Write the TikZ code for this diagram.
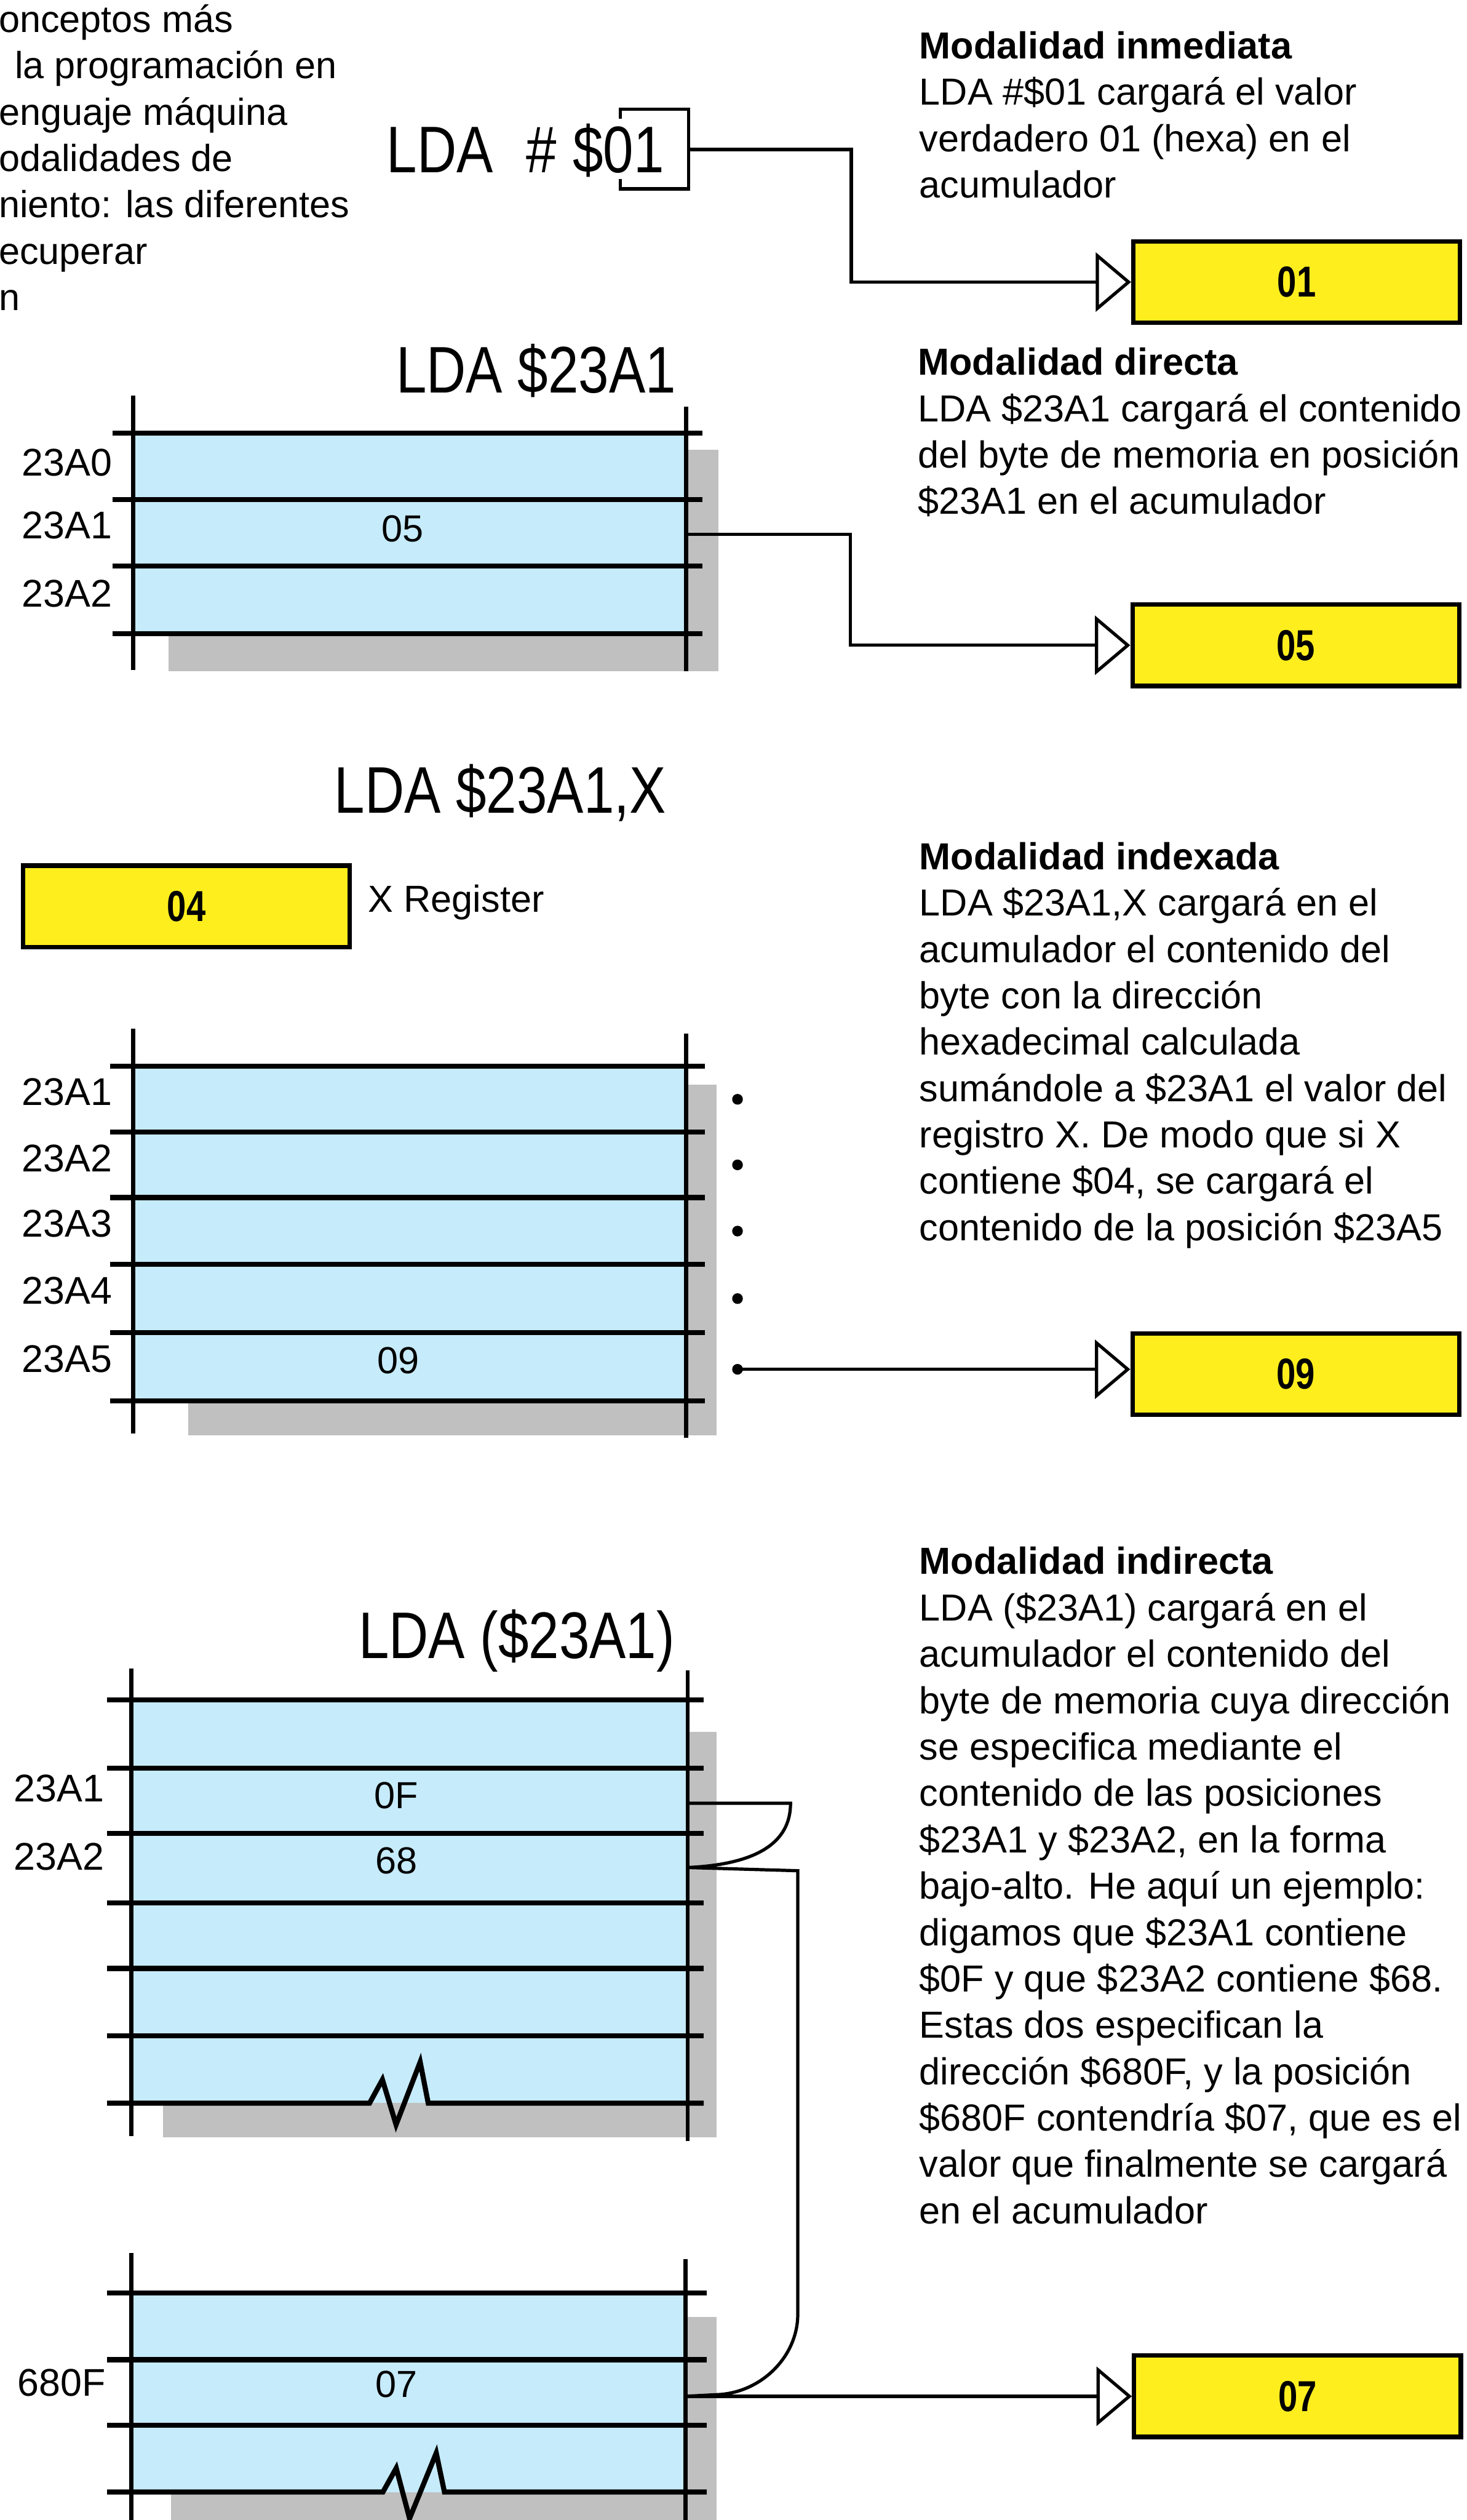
\documentclass[tikz,border=0pt]{standalone}
\usepackage{fontspec}
\setmainfont{Liberation Sans}
\newfontfamily\bigfont{Liberation Sans}[FakeStretch=0.83]
\newfontfamily\boxfont{Liberation Sans}[FakeStretch=0.8]
\usetikzlibrary{arrows.meta}
\definecolor{memblue}{RGB}{198,235,250}
\definecolor{accyellow}{RGB}{255,238,30}
\definecolor{shadowgray}{RGB}{192,192,192}
\tikzset{
  desctext/.style={inner sep=0pt, anchor=base west, font=\fontsize{20pt}{24.63pt}\selectfont},
  biglabel/.style={inner sep=0pt, anchor=base west, font=\bigfont\fontsize{35pt}{40pt}\selectfont},
  addrlab/.style={inner sep=0pt, anchor=base east, font=\fontsize{20.5pt}{24pt}\selectfont},
  cellval/.style={inner sep=0pt, anchor=base, font=\fontsize{20pt}{24pt}\selectfont},
  accbox/.style={draw, line width=2.4pt, fill=accyellow, minimum width=6.1cm, minimum height=1.52cm, inner sep=0pt, font=\boxfont\bfseries\fontsize{23pt}{26pt}\selectfont},
  rowline/.style={line width=2.7pt},
  colline/.style={line width=2.2pt},
  conn/.style={line width=1.7pt},
  arr/.style={conn, -{Triangle[open, length=0.66cm, width=1.1cm]}},
  memshadow/.style={fill=shadowgray},
  memfill/.style={fill=memblue},
  dotnode/.style={circle, fill=black, inner sep=0pt, minimum size=0.2cm},
}
\newcommand{\descbox}[1]{\parbox[t]{11.5cm}{\raggedright #1}}
\begin{document}
\begin{tikzpicture}[x=0.03cm, y=-0.03cm]
\fill[white] (0,0) rectangle (913,1568);
\useasboundingbox (0,0) rectangle (913,1568);

% ---------- texts ----------
\node[desctext] (intro) at (-1,20) {\descbox{onceptos más\\\hspace*{0.3cm}la programación en\\enguaje máquina\\odalidades de\\niento: las diferentes\\ecuperar\\n}};

\node[desctext] (inm) at (572,36.5) {\descbox{\textbf{Modalidad inmediata}\\LDA \#\$01 cargará el valor\\verdadero 01 (hexa) en el\\acumulador}};
\node[desctext] (dir) at (571,233.4) {\descbox{\textbf{Modalidad directa}\\LDA \$23A1 cargará el contenido\\del byte de memoria en posición\\\$23A1 en el acumulador}};
\node[desctext] (idx) at (572,541) {\descbox{\textbf{Modalidad indexada}\\LDA \$23A1,X cargará en el\\acumulador el contenido del\\byte con la dirección\\hexadecimal calculada\\sumándole a \$23A1 el valor del\\registro X. De modo que si X\\contiene \$04, se cargará el\\contenido de la posición \$23A5}};
\node[desctext] (ind) at (572,979.6) {\descbox{\textbf{Modalidad indirecta}\\LDA (\$23A1) cargará en el\\acumulador el contenido del\\byte de memoria cuya dirección\\se especifica mediante el\\contenido de las posiciones\\\$23A1 y \$23A2, en la forma\\bajo-alto. He aquí un ejemplo:\\digamos que \$23A1 contiene\\\$0F y que \$23A2 contiene \$68.\\Estas dos especifican la\\dirección \$680F, y la posición\\\$680F contendría \$07, que es el\\valor que finalmente se cargará\\en el acumulador}};

\node[biglabel] (lda1) at (240.5,107.2) {LDA\hspace{0.62cm}\#\hspace{0.3cm}\$01};
\node[biglabel] (lda2) at (246.4,244.3) {LDA \$23A1};
\node[biglabel] (lda3) at (208,506) {LDA \$23A1,X};
\node[biglabel] (lda4) at (223,1032) {LDA (\$23A1)};

% bracket round 01
\draw[conn] (386,74) -- (386,68) -- (428.5,68) -- (428.5,117.5) -- (386,117.5) -- (386,111.5);
\coordinate (br01) at (428.5,93);

% ---------- accumulator / register boxes ----------
\node[accbox] (box01) at (807,175.5) {01};
\node[accbox] (box05) at (806.5,401.5) {05};
\node[accbox] (box04) at (116,564) {04};
\node[accbox] (box09) at (806.5,855) {09};
\node[accbox] (box07) at (807.5,1491) {07};
\node[desctext] (xreg) at (229,567.5) {X Register};

% ---------- table 1 (directa) ----------
\fill[memshadow] (105,280) rectangle (447,417.6);
\fill[memfill] (83,269.4) rectangle (427,394.3);
\foreach \y in {269.4,310.8,352.2,394.3} \draw[rowline] (70,\y) -- (437,\y);
\draw[colline] (83,246) -- (83,417);
\draw[colline] (427,253) -- (427,417.6);
\node[addrlab] (t1a0) at (70,296) {23A0};
\node[addrlab] (t1a1) at (70,335) {23A1};
\node[addrlab] (t1a2) at (70,377.8) {23A2};
\node[cellval] (t1v) at (250.7,337) {05};

% ---------- table 2 (indexada) ----------
\fill[memshadow] (117,675) rectangle (446,893);
\fill[memfill] (83,663.4) rectangle (427,871.7);
\foreach \y in {663.4,704.5,745.1,786.8,829.2,871.7} \draw[rowline] (68.5,\y) -- (438.8,\y);
\draw[colline] (83,640) -- (83,892);
\draw[colline] (427,643) -- (427,894.7);
\node[addrlab] (t2a1) at (70,687.9) {23A1};
\node[addrlab] (t2a2) at (70,729) {23A2};
\node[addrlab] (t2a3) at (70,769.6) {23A3};
\node[addrlab] (t2a4) at (70,811.3) {23A4};
\node[addrlab] (t2a5) at (70,853.7) {23A5};
\node[cellval] (t2v) at (247.8,854.8) {09};
\node[dotnode] (d1) at (459,684) {};
\node[dotnode] (d2) at (459,724.8) {};
\node[dotnode] (d3) at (459,766) {};
\node[dotnode] (d4) at (459,808) {};
\node[dotnode] (d5) at (459,852) {};

% ---------- table 3 (indirecta, upper) ----------
\fill[memshadow] (101.6,1077.5) rectangle (446,1330);
\fill[memfill] (81.6,1057.6) rectangle (428,1308.6);
\foreach \y in {1057.6,1100.2,1140.9,1184,1224.8,1266.6} \draw[rowline] (66.7,\y) -- (438,\y);
\draw[rowline] (66.7,1308.6) -- (230,1308.6) -- (238,1294) -- (246.5,1322) -- (261.5,1283) -- (266.5,1308.6) -- (438,1308.6);
\draw[colline] (81.6,1038) -- (81.6,1329);
\draw[colline] (428,1039.5) -- (428,1332);
\node[addrlab] (t3a1) at (65,1121) {23A1};
\node[addrlab] (t3a2) at (65,1163.7) {23A2};
\node[cellval] (t3v1) at (246.6,1125.4) {0F};
\node[cellval] (t3v2) at (246.6,1166) {68};

% ---------- table 4 (indirecta, lower) ----------
\fill[memshadow] (106.6,1441.6) rectangle (446,1570);
\fill[memfill] (81.6,1426.7) rectangle (426.5,1550.6);
\foreach \y in {1426.7,1468.3,1509.1} \draw[rowline] (66.7,\y) -- (439.8,\y);
\draw[rowline] (66.7,1550.6) -- (238.3,1550.6) -- (246.6,1535.7) -- (254.9,1567) -- (271.5,1526.3) -- (276.6,1550.6) -- (439.8,1550.6);
\draw[colline] (81.6,1401.7) -- (81.6,1570);
\draw[colline] (426.5,1405.6) -- (426.5,1570);
\node[addrlab] (t4a) at (66,1491) {680F};
\node[cellval] (t4v) at (246.6,1491.8) {07};

% ---------- connectors ----------
\coordinate (k1) at (529.8,130);
\draw[arr] (br01) -| (k1) |- (box01.west);

\coordinate (r05) at (427,332.5);
\coordinate (k2) at (529.2,370);
\draw[arr] (r05) -| (k2) |- (box05.west);

\draw[arr] (d5.center) -- (d5.center -| box09.west);

\coordinate (j1) at (428,1122);
\coordinate (j2) at (428,1162);
\coordinate (j3) at (426.5,1491);
\draw[conn] (j1) -- (492,1122) .. controls (492,1146) and (472,1160) .. (j2);
\draw[conn] (j2) -- (496.5,1164) -- (496.5,1440) .. controls (496.5,1466) and (474,1489) .. (446,1490) -- (j3);
\draw[arr] (j3) -- (j3 -| box07.west);
\end{tikzpicture}
\end{document}
